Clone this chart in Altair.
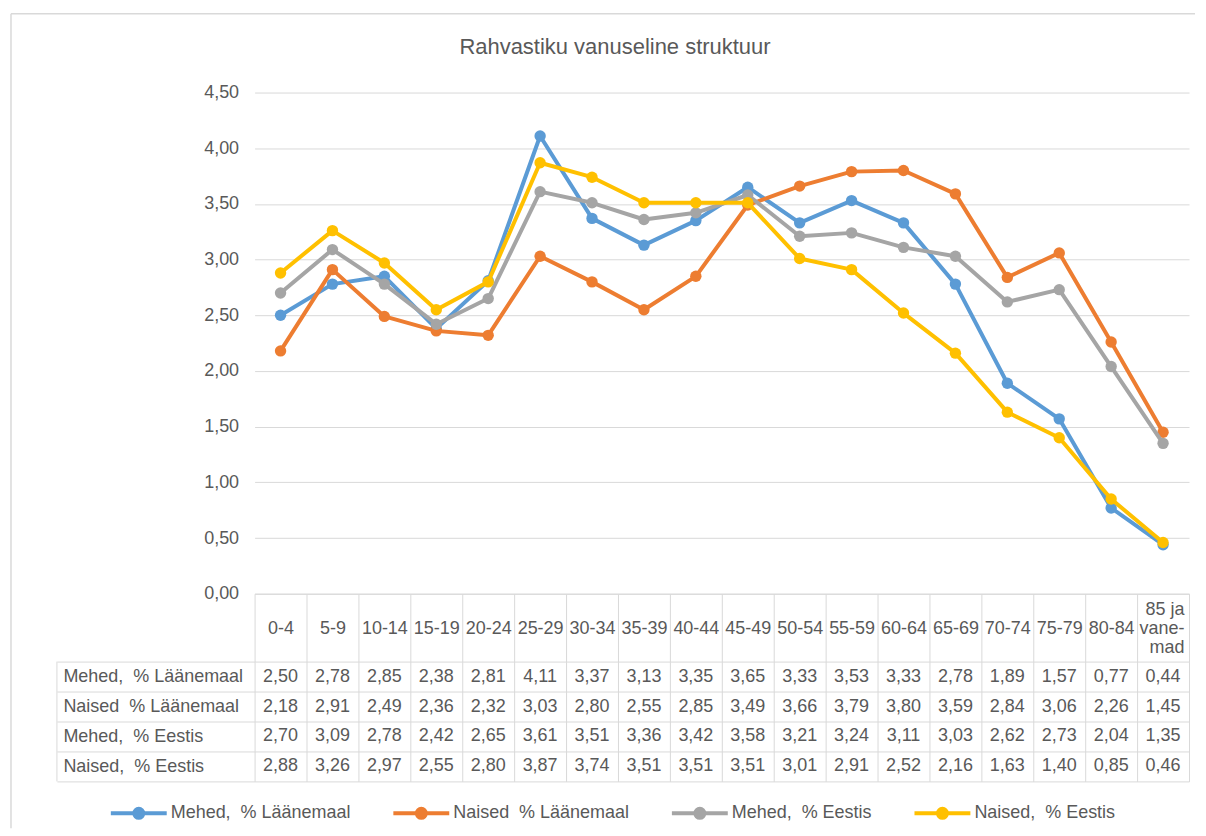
import altair as alt
import pandas as pd

title_text = "Rahvastiku vanuseline struktuur"
categories = ["0-4", "5-9", "10-14", "15-19", "20-24", "25-29", "30-34", "35-39", "40-44",
              "45-49", "50-54", "55-59", "60-64", "65-69", "70-74", "75-79", "80-84", "85 ja vanemad"]
last_label_lines = ["85 ja", "vane-", "mad"]
series = ["Mehed,\u00a0 % Läänemaal", "Naised\u00a0 % Läänemaal", "Mehed,\u00a0 % Eestis", "Naised,\u00a0 % Eestis"]
mehed_laane = [2.50, 2.78, 2.85, 2.38, 2.81, 4.11, 3.37, 3.13, 3.35, 3.65, 3.33, 3.53, 3.33, 2.78, 1.89, 1.57, 0.77, 0.44]
naised_laane = [2.18, 2.91, 2.49, 2.36, 2.32, 3.03, 2.80, 2.55, 2.85, 3.49, 3.66, 3.79, 3.80, 3.59, 2.84, 3.06, 2.26, 1.45]
mehed_eesti = [2.70, 3.09, 2.78, 2.42, 2.65, 3.61, 3.51, 3.36, 3.42, 3.58, 3.21, 3.24, 3.11, 3.03, 2.62, 2.73, 2.04, 1.35]
naised_eesti = [2.88, 3.26, 2.97, 2.55, 2.80, 3.87, 3.74, 3.51, 3.51, 3.51, 3.01, 2.91, 2.52, 2.16, 1.63, 1.40, 0.85, 0.46]
colors = ["#5B9BD5", "#ED7D31", "#A5A5A5", "#FFC000"]
y_ticks = [0.0, 0.5, 1.0, 1.5, 2.0, 2.5, 3.0, 3.5, 4.0, 4.5]

GRID = "#d9d9d9"
TXT = "#595959"
FONT = "Liberation Sans"

values_by_series = [mehed_laane, naised_laane, mehed_eesti, naised_eesti]
rows = []
for s, vals in zip(series, values_by_series):
    for c, v in zip(categories, vals):
        rows.append({"series": s, "cat": c, "value": v})
df = pd.DataFrame(rows)

fmt_expr = "replace(format(datum.value, '.2f'), '.', ',')"
last_expr = "[" + ", ".join("'" + t + "'" for t in last_label_lines) + "]"
is_last = f"datum.label == '{categories[-1]}'"
x_label_expr = f"{is_last} ? {last_expr} : datum.label"

band = alt.Scale(type="band", domain=categories, paddingInner=0, paddingOuter=0)

legend_path = ("M-1,0L1,0"
               "M-0.16,0A0.16,0.16,0,1,1,0.16,0A0.16,0.16,0,1,1,-0.16,0"
               "M-0.06,0A0.06,0.06,0,1,1,0.06,0A0.06,0.06,0,1,1,-0.06,0")

color_enc = alt.Color(
    "series:N",
    scale=alt.Scale(domain=series, range=colors),
    legend=alt.Legend(
        title=None, orient="none", legendX=-146, legendY=712,
        direction="horizontal", columns=4, columnPadding=40,
        symbolType=legend_path, symbolSize=3136, symbolStrokeWidth=4,
        clipHeight=20, labelFontSize=18, labelColor=TXT, labelFont=FONT,
        labelOffset=2, labelLimit=0,
    ),
)

x_top = alt.X(
    "cat:N", scale=band, bandPosition=0.5,
    axis=alt.Axis(
        title=None, orient="bottom", labelAngle=0, tickBand="extent", tickSize=68,
        tickColor=GRID, domainColor=GRID, labelFontSize=18, labelColor=TXT, labelFont=FONT,
        labelBaseline="middle",
        labelPadding={"condition": {"test": is_last, "value": -52}, "value": -33},
        labelAlign={"condition": {"test": is_last, "value": "right"}, "value": "center"},
        labelOffset={"condition": {"test": is_last, "value": 21}, "value": 0},
        labelExpr=x_label_expr,
        labelLineHeight=19, labelLimit=0, grid=False,
    ),
)
y_top = alt.Y(
    "value:Q",
    scale=alt.Scale(domain=[0, 4.5], nice=False, zero=True),
    axis=alt.Axis(
        title=None, values=y_ticks, labelExpr=fmt_expr, domain=False, ticks=False,
        gridColor=GRID, gridWidth=1, labelFontSize=18, labelColor=TXT, labelFont=FONT,
        labelPadding=16,
    ),
)

layers = []
for s in series:
    base = alt.Chart(df).transform_filter(alt.datum.series == s)
    layers.append(base.mark_line(strokeWidth=4, strokeCap="round", strokeJoin="round").encode(
        x=x_top, y=y_top, color=color_enc))
    layers.append(base.mark_point(filled=True, size=130, opacity=1).encode(
        x=x_top, y=y_top, color=color_enc))

title_layer = alt.Chart(pd.DataFrame({"t": [title_text]})).mark_text(
    fontSize=22, color=TXT, font=FONT, baseline="middle", align="center"
).encode(text="t:N", x=alt.value(361), y=alt.value(-46))

frame_df = pd.DataFrame({"k": [0]})
frame_left = alt.Chart(frame_df).mark_rule(color=GRID, strokeWidth=1.5).encode(
    x=alt.value(-244), y=alt.value(-79), y2=alt.value(737))
frame_top = alt.Chart(frame_df).mark_rule(color=GRID, strokeWidth=1.5).encode(
    x=alt.value(-244), x2=alt.value(942), y=alt.value(-79))

panel_a = alt.layer(frame_left, frame_top, title_layer, *layers).properties(width=936, height=502)

x_tab = alt.X(
    "cat:N", scale=band, bandPosition=0.5,
    axis=alt.Axis(title=None, orient="top", labels=False, ticks=False, domain=False,
                  grid=True, gridColor=GRID, tickBand="extent"),
)
y_tab = alt.Y(
    "series:N", bandPosition=0.5,
    scale=alt.Scale(type="band", domain=series, paddingInner=0, paddingOuter=0),
    axis=alt.Axis(title=None, tickBand="extent", tickSize=198, tickColor=GRID, grid=True,
                  gridColor=GRID, domain=False, labelAlign="left", labelPadding=-6,
                  labelFontSize=18, labelColor=TXT, labelFont=FONT, labelLimit=0,
                  labelBaseline="middle"),
)
table_text = alt.Chart(df).transform_calculate(label=fmt_expr).mark_text(
    fontSize=18, color=TXT, font=FONT, baseline="middle", align="center"
).encode(x=x_tab, y=y_tab, text="label:N")
table_left = alt.Chart(frame_df).mark_rule(color=GRID, strokeWidth=1).encode(
    x=alt.value(-198), y=alt.value(0), y2=alt.value(120))

panel_b = alt.layer(table_text, table_left).properties(width=936, height=120)

chart = alt.vconcat(panel_a, panel_b, spacing=68, bounds="flush").resolve_scale(
    x="shared"
).properties(
    padding={"left": 2, "top": 4, "right": 2, "bottom": 2}
).configure(font=FONT).configure_view(stroke="transparent", strokeWidth=0)

chart.save("out.html", embed_options={"renderer": "svg", "actions": False})
